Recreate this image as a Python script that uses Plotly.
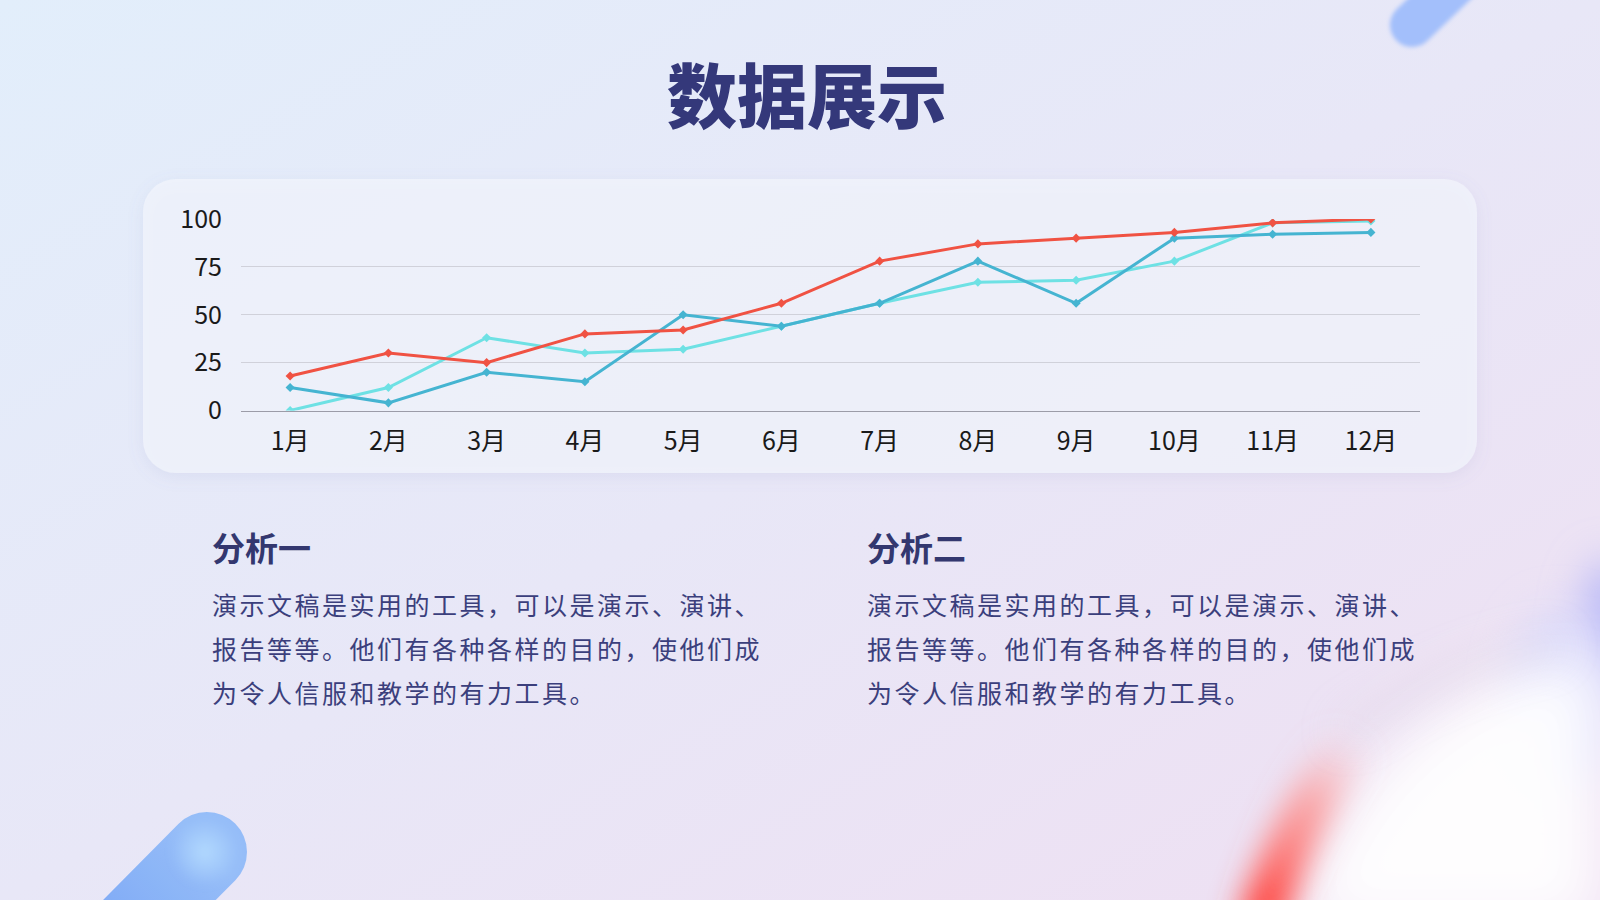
import base64
import plotly.graph_objects as go

# 数据
months = ["1月", "2月", "3月", "4月", "5月", "6月", "7月", "8月", "9月", "10月", "11月", "12月"]
series_cyan = [0, 12, 38, 30, 32, 44, 56, 67, 68, 78, 98, 99]
series_teal = [12, 4, 20, 15, 50, 44, 56, 78, 56, 90, 92, 93]
series_red = [18, 30, 25, 40, 42, 56, 78, 87, 90, 93, 98, 100]
y_ticks = [0, 25, 50, 75, 100]

title_text = "数据展示"
heading_left = "分析一"
heading_right = "分析二"
body_lines = [
    "演示文稿是实用的工具，可以是演示、演讲、",
    "报告等等。他们有各种各样的目的，使他们成",
    "为令人信服和教学的有力工具。",
]

W, H = 1600, 900
FONT = "Noto Sans CJK SC"
NAVY = "#34387a"
BODY = "#3b3f7c"


def px(x):
    return x / W


def py(y):
    return 1 - y / H


# background with gradient, card and blurred decorations
svg = f"""<svg xmlns="http://www.w3.org/2000/svg" width="{W}" height="{H}" viewBox="0 0 {W} {H}">
<defs>
  <linearGradient id="bg" x1="0" y1="0" x2="1" y2="1">
    <stop offset="0" stop-color="#e2eefb"/>
    <stop offset="0.5" stop-color="#e8e7f7"/>
    <stop offset="1" stop-color="#efdff2"/>
  </linearGradient>
  <linearGradient id="pill" x1="0" y1="1" x2="1" y2="0">
    <stop offset="0" stop-color="#6f9ff4"/>
    <stop offset="1" stop-color="#8fbaf9"/>
  </linearGradient>
  <radialGradient id="hl" cx="0.5" cy="0.5" r="0.5">
    <stop offset="0" stop-color="#b5dcff" stop-opacity="0.9"/>
    <stop offset="1" stop-color="#b5dcff" stop-opacity="0"/>
  </radialGradient>
  <linearGradient id="redfade" gradientUnits="userSpaceOnUse" x1="1265" y1="900" x2="1350" y2="735">
    <stop offset="0" stop-color="#ff4a45" stop-opacity="1"/>
    <stop offset="0.6" stop-color="#ff8a85" stop-opacity="0.65"/>
    <stop offset="1" stop-color="#ffb0b0" stop-opacity="0"/>
  </linearGradient>
  <filter id="b2" x="-50%" y="-50%" width="200%" height="200%"><feGaussianBlur stdDeviation="2"/></filter>
  <filter id="b4" x="-50%" y="-50%" width="200%" height="200%"><feGaussianBlur stdDeviation="4"/></filter>
  <filter id="b15" x="-100%" y="-100%" width="300%" height="300%"><feGaussianBlur stdDeviation="15"/></filter>
  <filter id="b20" x="-100%" y="-100%" width="300%" height="300%"><feGaussianBlur stdDeviation="20"/></filter>
  <filter id="b30" x="-100%" y="-100%" width="300%" height="300%"><feGaussianBlur stdDeviation="30"/></filter>
  <filter id="sh" x="-10%" y="-20%" width="120%" height="150%">
    <feDropShadow dx="0" dy="4" stdDeviation="8" flood-color="#7b80b8" flood-opacity="0.16"/>
  </filter>
</defs>
<rect width="{W}" height="{H}" fill="url(#bg)"/>
<line x1="1412" y1="25" x2="1480" y2="-40" stroke="#a3bffb" stroke-width="44" stroke-linecap="round" filter="url(#b2)"/>
<line x1="207" y1="852" x2="90" y2="970" stroke="url(#pill)" stroke-width="80" stroke-linecap="round" opacity="0.92"/>
<circle cx="205" cy="852" r="34" fill="url(#hl)" filter="url(#b4)"/>
<ellipse cx="1610" cy="630" rx="30" ry="70" fill="#b9b9f7" filter="url(#b20)"/>
<ellipse cx="1560" cy="700" rx="50" ry="90" fill="#d8d8fb" filter="url(#b20)"/>
<path d="M1295 930 Q1345 725 1560 655 L1600 665 L1600 930 Z" fill="#ffffff" opacity="0.95" filter="url(#b30)"/>
<path d="M1258 930 Q1295 815 1352 740" stroke="url(#redfade)" stroke-width="46" fill="none" filter="url(#b15)"/>
<path d="M1340 735 Q1445 665 1560 645" stroke="#d9cfe0" stroke-width="14" fill="none" opacity="0.6" filter="url(#b20)"/>
<rect x="143" y="179" width="1334" height="294" rx="33" ry="33" fill="#f3f5fc" fill-opacity="0.72" filter="url(#sh)"/>
</svg>"""
bg_uri = "data:image/svg+xml;base64," + base64.b64encode(svg.encode("utf-8")).decode()

fig = go.Figure()

for vals, color in [(series_cyan, "#6ee1e4"), (series_teal, "#45b4d1"), (series_red, "#f05243")]:
    fig.add_trace(go.Scatter(
        x=months, y=vals, mode="lines+markers",
        line=dict(color=color, width=3),
        marker=dict(symbol="diamond", size=7, color=color),
        hoverinfo="x+y",
    ))

annotations = [
    dict(text=title_text, x=px(807), y=py(92), xanchor="center", yanchor="middle",
         font=dict(family=FONT, size=70, color=NAVY, weight=900)),
]
for x0, head in [(210, heading_left), (865, heading_right)]:
    annotations.append(dict(text=head, x=px(x0), y=py(547), xanchor="left", yanchor="middle",
                            font=dict(family=FONT, size=33, color="#33376f", weight=700)))
    for i, line in enumerate(body_lines):
        annotations.append(dict(
            text=f"<span style='letter-spacing:2.5px'>{line}</span>",
            x=px(x0), y=py(604 + 44 * i), xanchor="left", yanchor="middle",
            font=dict(family=FONT, size=25, color=BODY)))
for a in annotations:
    a.update(xref="paper", yref="paper", showarrow=False)

fig.update_layout(
    width=W, height=H, autosize=False,
    margin=dict(l=0, r=0, t=0, b=0, pad=0),
    paper_bgcolor="#e8e9f7",
    plot_bgcolor="rgba(0,0,0,0)",
    showlegend=False,
    images=[dict(source=bg_uri, xref="paper", yref="paper", x=0, y=1, sizex=1, sizey=1,
                 xanchor="left", yanchor="top", sizing="stretch", layer="below")],
    annotations=annotations,
    xaxis=dict(
        domain=[px(241), px(1420)], type="category", automargin=False,
        range=[-0.5, len(months) - 0.5],
        showgrid=False, showline=True, linecolor="#9c9ca8", linewidth=1,
        ticks="", ticklabelstandoff=8,
        tickfont=dict(family=FONT, size=25, color="#1a1a1a"),
        fixedrange=True,
    ),
    yaxis=dict(
        domain=[py(410.5), py(219)], range=[0, 100], automargin=False,
        tickvals=y_ticks, showgrid=True, gridcolor="#d0d1da", gridwidth=1,
        zeroline=False, showline=False, ticks="", ticklabelstandoff=18,
        tickfont=dict(family=FONT, size=25, color="#1a1a1a"),
        fixedrange=True,
    ),
)

page_fix = "document.body.style.margin='0';document.body.style.overflow='hidden';"
fig.write_html("out.html", config={"responsive": False, "displayModeBar": False}, post_script=page_fix)
